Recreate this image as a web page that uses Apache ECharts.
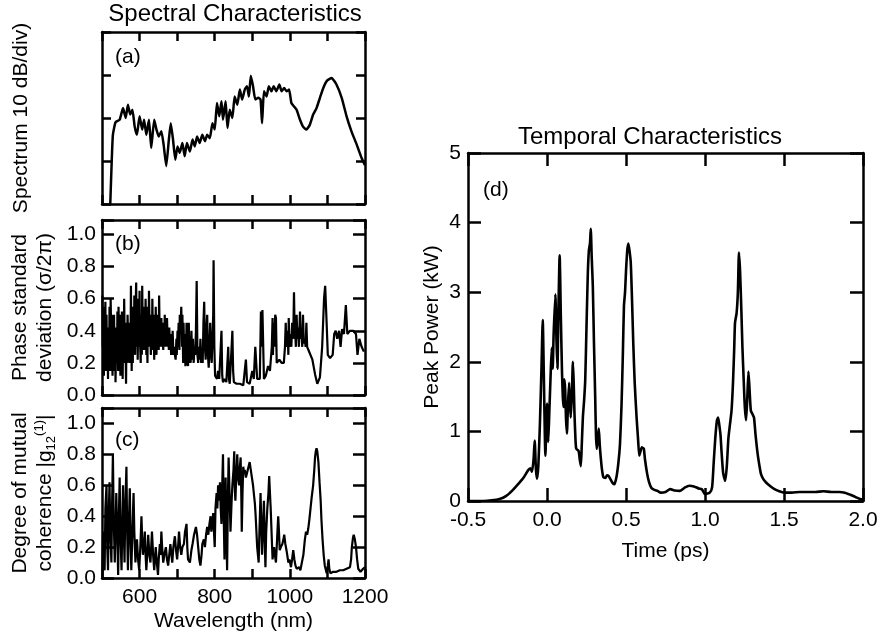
<!DOCTYPE html>
<html>
<head>
<meta charset="utf-8">
<script src="https://cdn.jsdelivr.net/npm/echarts/dist/echarts.min.js"></script>
<style>
html,body{margin:0;padding:0;background:#fff;}
#chart{width:881px;height:643px;}
</style>
</head>
<body>
<div id="chart"></div>
<script>
// ---------- Data ----------
// (a) Spectrum, arbitrary 10 dB/div units: [wavelength nm, divisions]
const spectrum = [[522,0],[526,1.03],[529,1.61],[536,1.9],[547,1.96],[556,2.23],[563,2.0],[569,2.31],[575,2.08],[581,2.19],[587,1.8],[593,1.61],[600,2.04],[607,1.73],[612,1.96],[618,1.61],[625,1.96],[631,1.3],[639,1.96],[645,1.73],[651,1.57],[658,1.69],[664,1.38],[671,0.88],[678,1.5],[683,1.88],[689,1.5],[695,1.03],[701,1.34],[707,1.19],[714,1.42],[720,1.11],[726,1.42],[734,1.22],[741,1.5],[747,1.34],[753,1.57],[760,1.42],[767,1.61],[774,1.46],[780,1.61],[787,1.53],[794,1.88],[800,1.73],[806,2.35],[812,2.04],[818,2.39],[822,1.96],[829,2.39],[834,1.77],[840,2.19],[847,2.0],[853,2.5],[860,2.31],[867,2.66],[873,2.43],[880,2.66],[886,2.74],[891,2.5],[896,2.98],[902,2.74],[908,2.43],[916,2.47],[922,2.43],[926,1.88],[931,2.62],[938,2.5],[944,2.74],[951,2.62],[957,2.74],[964,2.62],[972,2.78],[978,2.62],[985,2.7],[991,2.62],[998,2.66],[1004,2.35],[1011,2.27],[1018,2.19],[1027,1.96],[1035,1.8],[1044,1.73],[1053,1.84],[1062,2.08],[1071,2.23],[1080,2.47],[1089,2.7],[1099,2.87],[1111,2.93],[1124,2.78],[1138,2.47],[1151,2.04],[1164,1.69],[1178,1.38],[1191,1.07],[1200,0.9]];

// (b) Phase standard deviation (sigma / 2pi): [wavelength nm, value]
const phaseStd = [[501,0.62],[502,0.3],[503,0.55],[505,0.12],[506,0.45],[507,0.2],[509,0.58],[510,0.15],[512,0.5],[513,0.25],[514,0.42],[516,0.1],[517,0.4],[519,0.2],[520,0.55],[522,0.15],[523,0.6],[525,0.3],[526,0.5],[528,0.12],[529,0.45],[531,0.25],[532,0.5],[534,0.15],[535,0.38],[536,0.08],[538,0.42],[540,0.2],[541,0.52],[543,0.15],[544,0.55],[546,0.25],[547,0.45],[549,0.12],[550,0.5],[552,0.2],[553,0.52],[555,0.1],[556,0.35],[558,0.25],[559,0.6],[561,0.2],[562,0.45],[564,0.07],[565,0.35],[567,0.2],[568,0.5],[570,0.3],[571,0.45],[573,0.2],[574,0.4],[576,0.3],[577,0.68],[579,0.15],[580,0.5],[582,0.2],[583,0.55],[585,0.3],[586,0.62],[588,0.25],[589,0.5],[591,0.7],[592,0.3],[594,0.45],[595,0.22],[597,0.6],[598,0.3],[600,0.65],[601,0.35],[603,0.2],[604,0.5],[606,0.25],[607,0.68],[609,0.3],[610,0.55],[612,0.28],[613,0.5],[615,0.35],[616,0.6],[618,0.25],[619,0.48],[621,0.2],[622,0.55],[624,0.3],[625,0.65],[627,0.35],[628,0.5],[630,0.25],[631,0.45],[633,0.3],[634,0.6],[636,0.28],[637,0.5],[639,0.22],[640,0.4],[642,0.3],[643,0.55],[645,0.25],[646,0.5],[648,0.3],[649,0.4],[651,0.28],[652,0.62],[654,0.3],[655,0.45],[657,0.3],[658,0.48],[660,0.32],[661,0.4],[663,0.28],[664,0.45],[666,0.32],[667,0.5],[669,0.3],[670,0.42],[672,0.35],[673,0.48],[675,0.3],[676,0.38],[678,0.28],[679,0.42],[681,0.3],[682,0.38],[684,0.25],[685,0.35],[687,0.28],[688,0.4],[690,0.25],[692,0.3],[694,0.25],[696,0.22],[698,0.35],[699,0.25],[701,0.4],[702,0.3],[704,0.45],[706,0.28],[707,0.5],[709,0.4],[711,0.55],[713,0.3],[714,0.5],[716,0.2],[717,0.45],[719,0.22],[720,0.38],[722,0.18],[724,0.3],[725,0.45],[727,0.2],[729,0.18],[731,0.45],[733,0.2],[734,0.3],[736,0.2],[738,0.4],[740,0.22],[742,0.35],[744,0.2],[746,0.3],[748,0.25],[750,0.4],[752,0.71],[754,0.25],[756,0.2],[758,0.3],[760,0.22],[762,0.35],[764,0.2],[766,0.28],[768,0.2],[770,0.45],[772,0.58],[774,0.3],[776,0.22],[778,0.4],[780,0.5],[782,0.25],[784,0.17],[786,0.3],[788,0.45],[790,0.25],[792,0.2],[794,0.35],[796,0.5],[797,0.84],[799,0.3],[801,0.12],[806,0.1],[809,0.15],[812,0.1],[816,0.3],[818,0.4],[820,0.12],[822,0.08],[827,0.1],[831,0.08],[836,0.3],[838,0.1],[840,0.07],[845,0.3],[847,0.4],[849,0.15],[851,0.08],[858,0.07],[867,0.07],[876,0.06],[883,0.22],[886,0.08],[893,0.07],[900,0.15],[904,0.1],[908,0.3],[913,0.1],[920,0.1],[923,0.52],[925,0.3],[927,0.53],[931,0.1],[936,0.12],[942,0.18],[947,0.15],[952,0.3],[954,0.48],[955,0.25],[957,0.45],[959,0.3],[961,0.5],[963,0.48],[965,0.2],[969,0.2],[972,0.22],[978,0.2],[984,0.2],[987,0.3],[989,0.45],[991,0.3],[994,0.4],[996,0.25],[997,0.48],[999,0.3],[1002,0.38],[1004,0.3],[1006,0.45],[1009,0.35],[1011,0.64],[1013,0.35],[1014,0.4],[1016,0.3],[1018,0.5],[1020,0.35],[1022,0.42],[1024,0.3],[1027,0.52],[1029,0.35],[1031,0.4],[1033,0.3],[1035,0.5],[1037,0.32],[1040,0.35],[1042,0.3],[1044,0.45],[1046,0.3],[1049,0.3],[1053,0.26],[1060,0.22],[1067,0.13],[1073,0.07],[1080,0.11],[1086,0.3],[1091,0.6],[1094,0.68],[1098,0.44],[1101,0.25],[1107,0.23],[1114,0.25],[1118,0.38],[1122,0.4],[1126,0.35],[1131,0.4],[1135,0.3],[1139,0.41],[1144,0.38],[1149,0.56],[1153,0.38],[1160,0.4],[1169,0.4],[1176,0.38],[1180,0.25],[1185,0.35],[1191,0.3],[1197,0.27]];

// (c) Degree of mutual coherence |g12(1)|: [wavelength nm, value]
const coherence = [[501,0.05],[503,0.3],[505,0.1],[507,0.05],[509,0.45],[512,0.6],[514,0.2],[516,0.05],[518,0.4],[520,0.62],[522,0.3],[525,0.1],[527,0.5],[529,0.8],[531,0.4],[534,0.1],[536,0.3],[538,0.55],[541,0.25],[543,0.02],[545,0.4],[547,0.65],[549,0.3],[552,0.05],[554,0.35],[556,0.6],[558,0.3],[560,0.1],[562,0.45],[565,0.72],[567,0.3],[569,0.05],[571,0.3],[574,0.58],[576,0.25],[578,0.05],[581,0.3],[584,0.55],[586,0.3],[589,0.1],[591,0.2],[593,0.25],[596,0.12],[599,0.05],[602,0.2],[605,0.4],[607,0.25],[609,0.15],[612,0.22],[614,0.3],[616,0.15],[618,0.05],[621,0.18],[623,0.28],[626,0.15],[629,0.1],[631,0.2],[633,0.3],[636,0.15],[639,0.05],[641,0.12],[643,0.2],[646,0.1],[649,0.02],[651,0.12],[654,0.22],[656,0.15],[658,0.3],[660,0.2],[663,0.1],[666,0.15],[670,0.2],[673,0.12],[676,0.08],[679,0.15],[682,0.22],[685,0.15],[687,0.1],[690,0.2],[694,0.27],[697,0.18],[700,0.12],[703,0.22],[705,0.3],[708,0.2],[711,0.15],[714,0.2],[718,0.22],[721,0.3],[725,0.35],[727,0.2],[729,0.12],[734,0.1],[738,0.18],[741,0.22],[745,0.28],[750,0.33],[753,0.28],[756,0.2],[759,0.12],[762,0.08],[765,0.15],[767,0.22],[771,0.25],[774,0.2],[777,0.28],[780,0.33],[783,0.28],[786,0.35],[789,0.4],[791,0.3],[793,0.3],[796,0.42],[798,0.3],[800,0.2],[802,0.45],[805,0.55],[807,0.45],[809,0.6],[812,0.5],[814,0.62],[816,0.45],[818,0.35],[820,0.6],[822,0.8],[824,0.4],[826,0.12],[828,0.45],[829,0.65],[831,0.3],[833,0.05],[835,0.5],[837,0.78],[840,0.5],[842,0.3],[845,0.5],[847,0.6],[850,0.7],[852,0.82],[853,0.6],[855,0.5],[858,0.7],[860,0.8],[862,0.65],[865,0.6],[867,0.72],[869,0.78],[871,0.5],[872,0.3],[874,0.55],[876,0.72],[878,0.68],[880,0.7],[883,0.65],[886,0.68],[890,0.72],[893,0.75],[896,0.7],[899,0.65],[902,0.6],[904,0.55],[907,0.48],[909,0.4],[911,0.3],[913,0.2],[915,0.15],[917,0.1],[919,0.3],[922,0.55],[924,0.35],[926,0.15],[928,0.3],[931,0.5],[933,0.25],[935,0.07],[937,0.3],[940,0.45],[943,0.55],[945,0.66],[947,0.55],[949,0.45],[952,0.25],[954,0.12],[956,0.18],[958,0.2],[960,0.15],[963,0.1],[966,0.25],[969,0.4],[971,0.3],[973,0.18],[976,0.2],[980,0.22],[983,0.25],[985,0.28],[988,0.22],[991,0.18],[993,0.15],[996,0.1],[999,0.12],[1003,0.07],[1006,0.12],[1009,0.18],[1012,0.12],[1015,0.08],[1018,0.06],[1022,0.05],[1025,0.07],[1028,0.05],[1032,0.1],[1036,0.15],[1040,0.25],[1043,0.3],[1046,0.28],[1049,0.32],[1052,0.38],[1055,0.45],[1058,0.52],[1062,0.6],[1065,0.7],[1067,0.78],[1069,0.82],[1071,0.84],[1073,0.82],[1076,0.75],[1079,0.62],[1082,0.5],[1084,0.38],[1087,0.25],[1090,0.15],[1093,0.08],[1096,0.05],[1098,0.03],[1101,0.08],[1103,0.12],[1105,0.06],[1108,0.03],[1112,0.04],[1115,0.04],[1120,0.05],[1124,0.04],[1128,0.05],[1133,0.05],[1138,0.06],[1142,0.05],[1146,0.06],[1151,0.06],[1155,0.07],[1160,0.07],[1163,0.12],[1165,0.2],[1168,0.26],[1170,0.28],[1173,0.25],[1176,0.2],[1179,0.12],[1182,0.06],[1185,0.05],[1188,0.04],[1192,0.05],[1195,0.06],[1200,0.07]];

// (d) Peak power (kW) vs time (ps): [time, power]
const peakPower = [[-0.5,0],[-0.4,0],[-0.35,0.01],[-0.3,0.03],[-0.26,0.07],[-0.22,0.15],[-0.18,0.25],[-0.15,0.33],[-0.12,0.44],[-0.105,0.47],[-0.095,0.42],[-0.085,0.6],[-0.078,0.87],[-0.07,0.45],[-0.063,0.32],[-0.055,0.5],[-0.045,1.1],[-0.035,1.9],[-0.027,2.6],[-0.02,1.8],[-0.01,0.65],[0.0,1.4],[0.008,0.85],[0.015,1.3],[0.022,1.75],[0.03,2.2],[0.036,1.9],[0.042,2.4],[0.053,2.97],[0.06,2.3],[0.066,1.9],[0.072,2.7],[0.08,3.53],[0.088,2.6],[0.095,1.85],[0.1,1.5],[0.105,1.35],[0.11,1.75],[0.115,1.6],[0.12,1.2],[0.126,0.97],[0.133,1.4],[0.14,1.7],[0.145,1.4],[0.15,1.2],[0.157,1.5],[0.164,2.0],[0.169,1.7],[0.174,1.25],[0.18,0.9],[0.185,0.75],[0.2,0.72],[0.207,0.6],[0.214,0.5],[0.22,0.8],[0.227,1.2],[0.235,1.45],[0.242,1.74],[0.25,2.5],[0.258,3.24],[0.265,3.6],[0.272,3.7],[0.277,3.91],[0.283,3.5],[0.29,3.09],[0.297,2.3],[0.305,1.5],[0.31,0.95],[0.315,0.75],[0.321,0.9],[0.328,1.04],[0.334,0.8],[0.34,0.63],[0.348,0.45],[0.357,0.34],[0.37,0.33],[0.38,0.37],[0.39,0.36],[0.405,0.3],[0.415,0.26],[0.426,0.24],[0.44,0.35],[0.452,0.55],[0.462,0.82],[0.472,1.4],[0.48,2.1],[0.487,2.8],[0.494,3.0],[0.5,3.3],[0.508,3.6],[0.515,3.7],[0.522,3.6],[0.53,3.43],[0.538,2.9],[0.546,2.27],[0.555,1.7],[0.567,1.2],[0.576,0.9],[0.584,0.65],[0.59,0.7],[0.6,0.77],[0.607,0.76],[0.613,0.75],[0.62,0.6],[0.634,0.39],[0.645,0.28],[0.66,0.19],[0.68,0.16],[0.7,0.145],[0.72,0.12],[0.75,0.13],[0.78,0.17],[0.81,0.15],[0.84,0.145],[0.87,0.19],[0.9,0.22],[0.93,0.21],[0.96,0.18],[0.98,0.17],[1.0,0.1],[1.03,0.12],[1.045,0.2],[1.055,0.55],[1.065,0.9],[1.075,1.15],[1.083,1.2],[1.09,1.1],[1.098,0.95],[1.105,0.7],[1.115,0.4],[1.128,0.29],[1.138,0.5],[1.148,0.9],[1.158,1.1],[1.168,1.3],[1.177,1.69],[1.185,2.2],[1.19,2.56],[1.2,2.7],[1.208,3.0],[1.215,3.57],[1.222,3.3],[1.23,2.75],[1.237,2.2],[1.244,1.79],[1.252,1.35],[1.26,1.16],[1.268,1.5],[1.275,1.86],[1.282,1.6],[1.29,1.3],[1.3,1.25],[1.31,1.2],[1.32,0.95],[1.333,0.68],[1.345,0.5],[1.354,0.39],[1.37,0.31],[1.385,0.27],[1.41,0.22],[1.44,0.17],[1.47,0.14],[1.5,0.12],[1.55,0.12],[1.6,0.13],[1.65,0.13],[1.7,0.13],[1.75,0.14],[1.8,0.13],[1.85,0.13],[1.885,0.12],[1.92,0.09],[1.95,0.06],[1.98,0.03],[2.0,0.02]];

// Axis settings / tick label texts
const wavelengthRange = [500, 1200];
const wavelengthStep = 100;
const timeRange = [-0.5, 2.0];
const timeStep = 0.5;
const powerRange = [0, 5];
const texts = {
  spectralTitle: 'Spectral Characteristics',
  temporalTitle: 'Temporal Characteristics',
  yA: 'Spectrum 10 dB/div)',
  yB: 'Phase standard\ndeviation (σ/2π)',
  xC: 'Wavelength (nm)',
  xD: 'Time (ps)',
  yD: 'Peak Power (kW)'
};

// ---------- Chart ----------
const FONT = 'Liberation Sans, Arial, Helvetica, sans-serif';
const BLACK = '#000';
const chart = echarts.init(document.getElementById('chart'), null, {renderer: 'canvas'});

const grids = [
  {left: 102, top: 32, width: 263, height: 172},
  {left: 102, top: 220, width: 263, height: 175},
  {left: 102, top: 408, width: 263, height: 170},
  {left: 468, top: 153, width: 395, height: 348}
];

function axisBase(extra) {
  return Object.assign({
    axisLine: {show: true, onZero: false, lineStyle: {color: BLACK, width: 2.5}},
    axisTick: {show: true, inside: true, length: 9, lineStyle: {color: BLACK, width: 2.5}},
    splitLine: {show: false},
    axisLabel: {show: false},
    nameTextStyle: {color: BLACK, fontFamily: FONT, fontSize: 21}
  }, extra);
}
const labelStyle = {show: true, color: BLACK, fontFamily: FONT, fontSize: 21};
const tick12 = {show: true, inside: true, length: 12, lineStyle: {color: BLACK, width: 2.5}};
const tick13 = {show: true, inside: true, length: 13, lineStyle: {color: BLACK, width: 2.5}};

const xAxes = [];
const yAxes = [];
// Left panels (wavelength)
for (let i = 0; i < 3; i++) {
  const isC = i === 2;
  xAxes.push(axisBase({
    type: 'value', gridIndex: i, position: 'bottom',
    min: wavelengthRange[0], max: wavelengthRange[1], interval: wavelengthStep,
    axisLabel: isC ? Object.assign({}, labelStyle, {margin: 9, formatter: v => (v % 200 === 0 && v > 500) ? String(v) : ''}) : {show: false},
    name: isC ? texts.xC : '', nameLocation: 'middle', nameGap: 33
  }));
  xAxes.push(axisBase({
    type: 'value', gridIndex: i, position: 'top',
    min: wavelengthRange[0], max: wavelengthRange[1], interval: wavelengthStep
  }));
}
// (a) y
yAxes.push(axisBase({type: 'value', gridIndex: 0, position: 'left', min: 0, max: 4, interval: 1,
  name: texts.yA, nameLocation: 'middle', nameRotate: 90, nameGap: 70}));
yAxes.push(axisBase({type: 'value', gridIndex: 0, position: 'right', min: 0, max: 4, interval: 1}));
// (b) y
const fracFmt = v => (Math.round(v * 10) % 2 === 0) ? v.toFixed(1) : '';
yAxes.push(axisBase({type: 'value', gridIndex: 1, position: 'left', min: 0, max: 1.09, interval: 0.2,
  axisTick: tick12,
  axisLabel: Object.assign({}, labelStyle, {margin: 6, formatter: fracFmt}),
  name: texts.yB, nameLocation: 'middle', nameRotate: 90, nameGap: 44,
  nameTextStyle: {color: BLACK, fontFamily: FONT, fontSize: 21, lineHeight: 25}}));
yAxes.push(axisBase({type: 'value', gridIndex: 1, position: 'right', min: 0, max: 1.09, interval: 0.2, axisTick: tick12}));
// (c) y
yAxes.push(axisBase({type: 'value', gridIndex: 2, position: 'left', min: 0, max: 1.1, interval: 0.2,
  axisTick: tick12,
  axisLabel: Object.assign({}, labelStyle, {margin: 6, formatter: fracFmt}),
  name: '{n|Degree of mutual}\n{n|coherence |g}{sub|12}{sup|(1)}{n||}',
  nameLocation: 'middle', nameRotate: 90, nameGap: 44,
  nameTextStyle: {
    color: BLACK, fontFamily: FONT, fontSize: 21,
    rich: {
      n: {fontFamily: FONT, fontSize: 21, lineHeight: 25, color: BLACK},
      sub: {fontFamily: FONT, fontSize: 13, lineHeight: 25, verticalAlign: 'bottom', color: BLACK},
      sup: {fontFamily: FONT, fontSize: 13, lineHeight: 25, verticalAlign: 'top', color: BLACK}
    }
  }}));
yAxes.push(axisBase({type: 'value', gridIndex: 2, position: 'right', min: 0, max: 1.1, interval: 0.2, axisTick: tick12}));
// (d)
xAxes.push(axisBase({type: 'value', gridIndex: 3, position: 'bottom', min: timeRange[0], max: timeRange[1], interval: timeStep,
  axisTick: tick13,
  axisLabel: Object.assign({}, labelStyle, {margin: 9, formatter: v => v.toFixed(1)}),
  name: texts.xD, nameLocation: 'middle', nameGap: 40}));
xAxes.push(axisBase({type: 'value', gridIndex: 3, position: 'top', min: timeRange[0], max: timeRange[1], interval: timeStep, axisTick: tick13}));
yAxes.push(axisBase({type: 'value', gridIndex: 3, position: 'left', min: powerRange[0], max: powerRange[1], interval: 1,
  axisTick: tick13,
  axisLabel: Object.assign({}, labelStyle, {margin: 7}),
  name: texts.yD, nameLocation: 'middle', nameRotate: 90, nameGap: 25}));
yAxes.push(axisBase({type: 'value', gridIndex: 3, position: 'right', min: powerRange[0], max: powerRange[1], interval: 1, axisTick: tick13}));

function lineSeries(data, xi, yi, smooth, width) {
  return {
    type: 'line', data: data, xAxisIndex: xi, yAxisIndex: yi,
    showSymbol: false, smooth: smooth || false, clip: true,
    lineStyle: {color: BLACK, width: width || 2.4}, animation: false
  };
}

const textEl = (x, y, str, size, align) => ({
  type: 'text', x: x, y: y, silent: true,
  style: {text: str, fill: BLACK, font: size + 'px ' + FONT, textAlign: align || 'left', textVerticalAlign: 'middle'}
});

chart.setOption({
  backgroundColor: '#fff',
  animation: false,
  grid: grids,
  xAxis: xAxes,
  yAxis: yAxes,
  series: [
    lineSeries(spectrum, 0, 0, 0.15, 2.5),
    lineSeries(phaseStd, 2, 2, false, 2.2),
    lineSeries(coherence, 4, 4, false, 2.2),
    lineSeries(peakPower, 6, 6, 0.2, 2.6)
  ],
  graphic: [
    textEl(235, 14, texts.spectralTitle, 24, 'center'),
    textEl(650, 137, texts.temporalTitle, 24, 'center'),
    textEl(115, 57, '(a)', 21),
    textEl(115, 244, '(b)', 21),
    textEl(115, 440, '(c)', 21),
    textEl(483, 190, '(d)', 21)
  ]
});
</script>
</body>
</html>
